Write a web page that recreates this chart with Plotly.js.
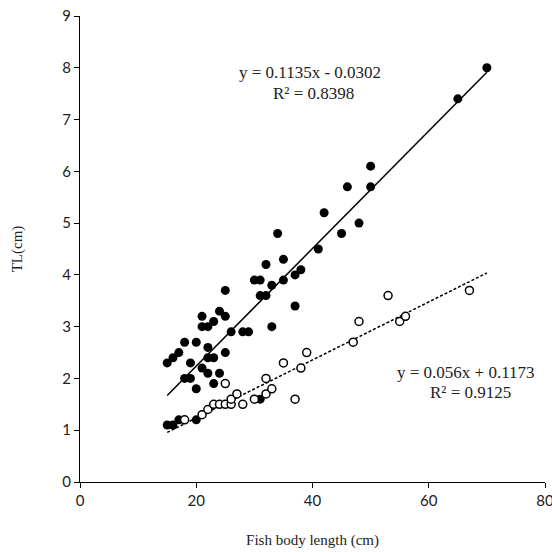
<!DOCTYPE html>
<html><head><meta charset="utf-8">
<script src="https://cdn.plot.ly/plotly-3.0.1.min.js"></script>
<style>html,body{margin:0;padding:0;background:#fff}#chart{width:552px;height:552px}</style>
</head><body><div id="chart"></div>
<script>
// Filled series (body length cm, TL cm)
const filledX = [15,16,17,18,20,22,21,22,21,23,24,25,25,25,19,22,23,21,22,24,18,19,23,20,15,16,17,20,26,28,29,30,31,31,32,33,33,32,34,35,35,37,38,37,41,42,45,46,48,50,50,65,70,31];
const filledY = [2.3,2.4,2.5,2.7,2.7,2.6,3.0,3.0,3.2,3.1,3.3,3.2,3.7,2.5,2.3,2.4,2.4,2.2,2.1,2.1,2.0,2.0,1.9,1.8,1.1,1.1,1.2,1.2,2.9,2.9,2.9,3.9,3.9,3.6,3.6,3.8,3.0,4.2,4.8,4.3,3.9,4.0,4.1,3.4,4.5,5.2,4.8,5.7,5.0,5.7,6.1,7.4,8.0,1.6];
// Open series
const openX = [18,21,22,23,24,25,26,26,27,28,30,32,33,32,25,35,38,39,37,47,48,53,55,56,67];
const openY = [1.2,1.3,1.4,1.5,1.5,1.5,1.5,1.6,1.7,1.5,1.6,1.7,1.8,2.0,1.9,2.3,2.2,2.5,1.6,2.7,3.1,3.6,3.1,3.2,3.7];
// Trend lines
const fitA = {slope: 0.1135, intercept: -0.0302, label1: "y = 0.1135x - 0.0302", label2: "R² = 0.8398"};
const fitB = {slope: 0.056, intercept: 0.1173, label1: "y = 0.056x + 0.1173", label2: "R² = 0.9125"};
const fitRange = [15, 70];
const xTicks = [0,20,40,60,80];
const yTicks = [0,1,2,3,4,5,6,7,8,9];

const lineY = (f) => fitRange.map(x => f.slope * x + f.intercept);

const traces = [
  {x: fitRange, y: lineY(fitA), mode: 'lines', line: {color: '#000', width: 1.5}, hoverinfo: 'skip'},
  {x: fitRange, y: lineY(fitB), mode: 'lines', line: {color: '#000', width: 1.5, dash: '3px,2px'}, hoverinfo: 'skip'},
  {x: filledX, y: filledY, mode: 'markers', marker: {symbol: 'circle', size: 9, color: '#000', line: {width: 0}}},
  {x: openX, y: openY, mode: 'markers', marker: {symbol: 'circle', size: 8, color: '#fff', line: {color: '#000', width: 1.5}}}
];

const serif = 'Liberation Serif, Times New Roman, serif';
const annFont = {family: serif, size: 17, color: '#222'};
const layout = {
  width: 552, height: 552,
  margin: {l: 80, r: 7, t: 16, b: 70},
  paper_bgcolor: '#fff', plot_bgcolor: '#fff',
  showlegend: false,
  xaxis: {
    range: [0, 80], tickvals: xTicks, ticktext: xTicks.map(String),
    showgrid: false, zeroline: false, showline: true, linecolor: '#000', linewidth: 1,
    ticks: 'outside', ticklen: 5, tickcolor: '#000', tickwidth: 1,
    ticklabeloverflow: 'allow',
    tickfont: {family: 'Lato, sans-serif', size: 15, color: '#222'},
    title: {text: 'Fish body length (cm)', font: {family: serif, size: 15, color: '#222'}, standoff: 26}
  },
  yaxis: {
    range: [0, 9], tickvals: yTicks, ticktext: yTicks.map(String),
    showgrid: false, zeroline: false, showline: true, linecolor: '#000', linewidth: 1,
    ticks: 'outside', ticklen: 5, tickcolor: '#000', tickwidth: 1,
    tickfont: {family: 'Lato, sans-serif', size: 15, color: '#222'},
    title: {text: 'TL(cm)', font: {family: serif, size: 15, color: '#222'}, standoff: 36}
  },
  annotations: [
    {x: 39.6, y: 7.9, xref: 'x', yref: 'y', text: fitA.label1, showarrow: false, font: annFont, borderpad: 0},
    {x: 40.1, y: 7.5, xref: 'x', yref: 'y', text: fitA.label2, showarrow: false, font: annFont, borderpad: 0},
    {x: 66.4, y: 2.12, xref: 'x', yref: 'y', text: fitB.label1, showarrow: false, font: annFont, borderpad: 0},
    {x: 67.1, y: 1.72, xref: 'x', yref: 'y', text: fitB.label2, showarrow: false, font: annFont, borderpad: 0}
  ]
};
Plotly.newPlot('chart', traces, layout, {staticPlot: true, displayModeBar: false});
</script>
</body></html>
